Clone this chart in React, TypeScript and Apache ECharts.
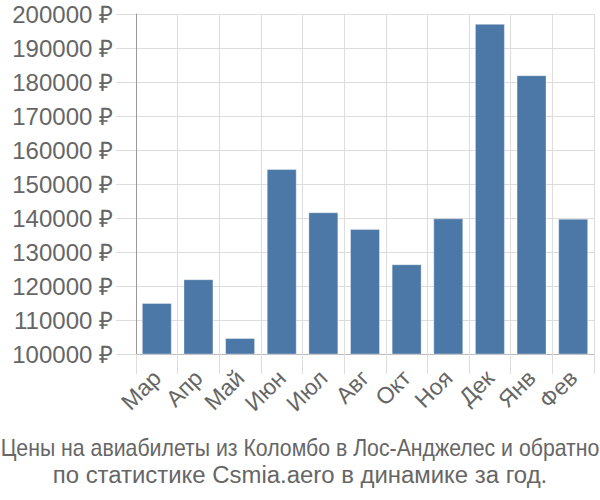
import React, { useEffect, useRef } from "react";
import * as echarts from "echarts";

const months = ["Мар", "Апр", "Май", "Июн", "Июл", "Авг", "Окт", "Ноя", "Дек", "Янв", "Фев"];
const prices = [115000, 122000, 104700, 154400, 141700, 136800, 126400, 139900, 197100, 182000, 139800];
const titleLines = [
  "Цены на авиабилеты из Коломбо в Лос-Анджелес и обратно",
  "по статистике Csmia.aero в динамике за год.",
];
const titleScale = [0.925, 1.04];

export default function App() {
  const ref = useRef<HTMLDivElement>(null);
  useEffect(() => {
    if (!ref.current) return;
    const chart = echarts.init(ref.current, null, { renderer: "svg" });
    chart.setOption({
      animation: false,
      textStyle: { fontFamily: "Liberation Sans" },
      graphic: titleLines.map((t, i) => ({
        type: "text",
        x: 300,
        y: 448 + i * 27,
        scaleX: titleScale[i],
        style: {
          text: t,
          fontFamily: "Liberation Sans",
          fontSize: 23,
          fill: "#666",
          textAlign: "center",
          textVerticalAlign: "middle",
        },
      })),
      grid: { left: 136, right: 6, top: 14, bottom: 146 },
      xAxis: {
        type: "category",
        data: months,
        axisLine: { show: true, lineStyle: { color: "#bbb", width: 1 } },
        axisTick: { show: true, length: 20, lineStyle: { color: "#ddd" } },
        splitLine: { show: true, lineStyle: { color: "#ddd" } },
        axisLabel: {
          interval: 0,
          rotate: 45,
          margin: 20,
          fontSize: 23,
          color: "#666",
          fontFamily: "Liberation Sans",
        },
      },
      yAxis: {
        type: "value",
        min: 100000,
        max: 200000,
        interval: 10000,
        axisLine: { show: true, lineStyle: { color: "#999" } },
        axisTick: { show: true, length: 20, lineStyle: { color: "#ddd" } },
        splitLine: { show: true, lineStyle: { color: "#ddd" } },
        axisLabel: {
          margin: 23,
          fontSize: 24,
          color: "#666",
          fontFamily: "Liberation Sans",
          formatter: (v: number) => `${v} ₽`,
        },
      },
      series: [
        {
          type: "bar",
          data: prices,
          barWidth: "72%",
          itemStyle: { color: "#4c78a8", borderColor: "rgba(255,255,255,0.35)", borderWidth: 1 },
        },
      ],
    });
    return () => chart.dispose();
  }, []);
  return <div ref={ref} style={{ width: 600, height: 500, position: "absolute", left: 0, top: 0 }} />;
}
